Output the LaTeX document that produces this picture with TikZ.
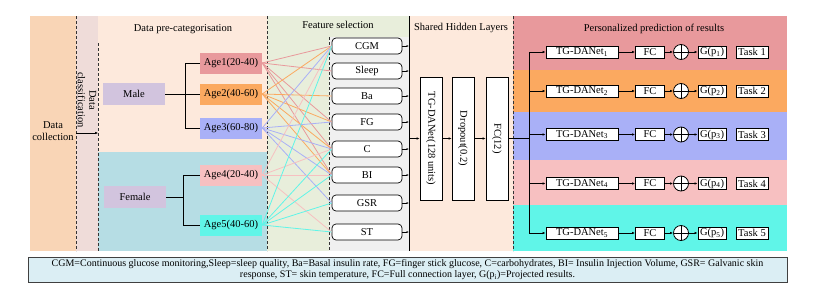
\documentclass[tikz,border=0pt]{standalone}
\usepackage{fontspec}
\setmainfont{Liberation Serif}
\usetikzlibrary{arrows.meta}
\definecolor{colpeach}{HTML}{F9D5B6}
\definecolor{colclass}{HTML}{EFDCD9}
\definecolor{colcream}{HTML}{FDE9DC}
\definecolor{colsky}{HTML}{B6DDE4}
\definecolor{colgreen}{HTML}{E8EEDB}
\definecolor{colgrey}{HTML}{F0F0F0}
\definecolor{colsex}{HTML}{D2C4DE}
\definecolor{agea}{HTML}{E8999C}
\definecolor{ageb}{HTML}{FBA960}
\definecolor{agec}{HTML}{A9B0F7}
\definecolor{aged}{HTML}{F7C0C1}
\definecolor{agee}{HTML}{60F5E8}
\definecolor{collegend}{HTML}{DBEEF4}
\begin{document}
\begin{tikzpicture}[x=1pt,y=-1pt,>={Latex[length=3pt,width=2.5pt]},
  every node/.style={font=\fontsize{10.5}{11.5}\selectfont},
  agebox/.style={fill=#1,minimum width=62,minimum height=21,inner sep=0pt},
  sexbox/.style={fill=colsex,minimum width=62,minimum height=22,inner sep=0pt},
  featbox/.style={draw,line width=0.7pt,rounded corners=4pt,fill=white,minimum width=70,minimum height=16,inner sep=0pt},
  layerbox/.style={draw,line width=0.7pt,fill=white,rotate=-90,minimum width=123,minimum height=22,inner sep=0pt},
  netbox/.style={draw,line width=0.8pt,fill=white,minimum width=#1,minimum height=12,inner sep=0pt},
  plusnode/.style={draw,line width=0.8pt,circle,fill=white,minimum size=15,inner sep=0pt,
    path picture={\draw[line width=0.8pt] (path picture bounding box.north) -- (path picture bounding box.south)
      (path picture bounding box.west) -- (path picture bounding box.east);}},
  split/.style={dashed,dash pattern=on 3pt off 2pt,line width=0.8pt,black!80}]
\useasboundingbox (0,0) rectangle (821,298);
% panels
\fill[colpeach] (30,16) rectangle (76,251);
\fill[colclass] (76,16) rectangle (98,251);
\fill[colcream] (98,16) rectangle (267,152);
\fill[colsky] (98,152) rectangle (267,251);
\fill[colgreen] (267,16) rectangle (409,251);
\fill[colgrey] (329,37) rectangle (409,251);
\fill[colcream] (409,16) rectangle (513,251);
\fill[agea] (513,16) rectangle (787,70);
\fill[ageb] (513,70) rectangle (787,112);
\fill[agec] (513,112) rectangle (787,160);
\fill[aged] (513,160) rectangle (787,205);
\fill[agee] (513,205) rectangle (787,251);
\draw[split] (76,16) -- (76,251);
\draw[split] (98,43) -- (98,251);
\draw[split] (267,16) -- (267,251);
\draw[split] (329,37) -- (329,251);
\draw[split] (513,16) -- (513,251);
\draw[line width=0.8pt] (409,16) -- (409,251);
% titles
\node (t-pre) at (183,29) {Data pre-categorisation};
\node (t-feat) at (338,25) {Feature selection};
\node (t-hid) at (461,28) {Shared Hidden Layers};
\node (t-res) at (654,29) {Personalized prediction of results};
\node[align=center] (coll) at (53,131) {Data\\collection};
\node[align=center,rotate=-90] (clas) at (87,100) {Data\\classification};
\coordinate (cl) at (76,133);
\coordinate (cr) at (98,133);
\draw[->] (cl) -- (cr);
% sex and age groups
\node[sexbox] (male) at (134,94) {Male};
\node[sexbox] (female) at (135,197) {Female};
\node[agebox=agea] (a1) at (231,63) {Age1(20-40)};
\node[agebox=ageb] (a2) at (231,94) {Age2(40-60)};
\node[agebox=agec] (a3) at (231,128) {Age3(60-80)};
\node[agebox=aged] (a4) at (231,175) {Age4(20-40)};
\node[agebox=agee] (a5) at (231,225) {Age5(40-60)};
\coordinate (mj) at (185,94);
\coordinate (fj) at (183,197);
\draw[line width=0.7pt] (male) -- (mj) (mj |- a1.west) -- (mj |- a3.west);
\foreach \a in {a1,a2,a3} \draw[line width=0.7pt] (mj |- \a.west) -- (\a.west);
\draw[line width=0.7pt] (female) -- (fj) (fj |- a4.west) -- (fj |- a5.west);
\foreach \a in {a4,a5} \draw[line width=0.7pt] (fj |- \a.west) -- (\a.west);
% features
\node[featbox] (cgm) at (367,46) {CGM};
\node[featbox] (sleep) at (367,71) {Sleep};
\node[featbox] (ba) at (367,96) {Ba};
\node[featbox] (fg) at (367,122) {FG};
\node[featbox] (c) at (367,149) {C};
\node[featbox] (bi) at (367,175) {BI};
\node[featbox] (gsr) at (367,203) {GSR};
\node[featbox] (st) at (367,232) {ST};
\foreach \f in {cgm,sleep,fg,c,bi} \draw[agea,line width=0.8pt] (a1.east) -- (\f.west);
\foreach \f in {cgm,ba,fg,c,bi} \draw[ageb,line width=0.8pt] (a2.east) -- (\f.west);
\foreach \f in {cgm,fg,c,bi,gsr} \draw[agec,line width=0.8pt] (a3.east) -- (\f.west);
\foreach \f in {cgm,c,bi,st} \draw[aged,line width=0.8pt] (a4.east) -- (\f.west);
\foreach \f in {cgm,c,bi,gsr,st} \draw[agee,line width=0.8pt] (a5.east) -- (\f.west);
\coordinate (sl) at (409,0);
\foreach \f in {cgm,sleep,ba,fg,c,bi,gsr,st}
  \draw[-{Latex[length=2.5pt,width=2pt]},line width=0.6pt] (\f.east) -- (\f.east -| sl);
% shared hidden layers
\node[layerbox] (tg) at (431,138.5) {TG-DANet(128 units)};
\node[layerbox] (drop) at (463,138.5) {Dropout(0.2)};
\node[layerbox] (fc) at (497,138.5) {FC(12)};
\coordinate (hin) at (409,138.5);
\coordinate (jn) at (529,138.5);
\draw[->,line width=0.7pt] (hin) -- (tg.south);
\draw[->,line width=0.7pt] (tg.north) -- (drop.south);
\draw[->,line width=0.7pt] (drop.north) -- (fc.south);
\draw[line width=0.7pt] (fc.north) -- (jn);
% task heads
\foreach \i/\y in {1/52,2/91,3/134.5,4/183.5,5/233} {
  \node[netbox=72] (t\i) at (582,\y) {TG-DANet\textsubscript{\i}};
  \node[netbox=29] (k\i) at (650,\y) {FC};
  \node[plusnode] (p\i) at (681,\y) {};
  \node[netbox=28] (g\i) at (712,\y) {G(p\textsubscript{\i})};
  \node[netbox=32] (q\i) at (752,\y) {Task \i};
  \draw[->,line width=0.7pt] (jn |- t\i.west) -- (t\i.west);
  \draw[->,line width=0.7pt] (t\i) -- (k\i);
  \draw[->,line width=0.7pt] (k\i) -- (p\i);
  \draw[->,line width=0.7pt] (p\i) -- (g\i);
}
\draw[line width=0.7pt] (jn |- t1.west) -- (jn |- t5.west);
% legend
\node[draw=black!75,line width=1pt,fill=collegend,minimum width=759,minimum height=25,
  inner sep=1pt,align=center,font=\fontsize{10}{11.5}\selectfont] (legend) at (407.5,269.5)
  {CGM=Continuous glucose monitoring,Sleep=sleep quality, Ba=Basal insulin rate, FG=finger stick glucose, C=carbohydrates, BI= Insulin Injection Volume, GSR= Galvanic skin\\
  response, ST= skin temperature, FC=Full connection layer, G(p\textsubscript{i})=Projected results.};
\end{tikzpicture}
\end{document}
